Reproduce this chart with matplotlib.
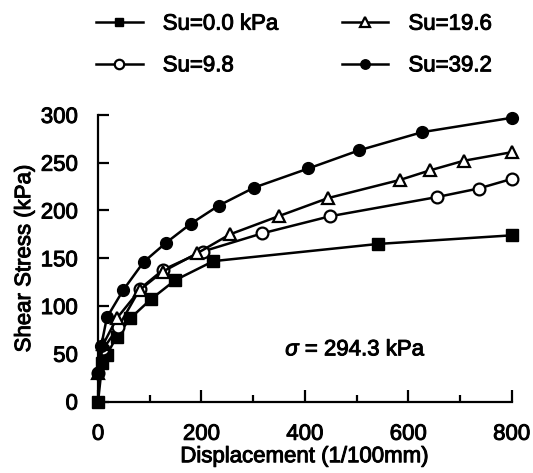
"""
Shear stress vs displacement for several suction values.
"""

import matplotlib

matplotlib.use("Agg")
import matplotlib.pyplot as plt
import matplotlib.patheffects as pe
from matplotlib.ticker import MultipleLocator


plt.rcParams["font.family"] = ["Liberation Sans", "DejaVu Sans"]
plt.rcParams["mathtext.fontset"] = "custom"
plt.rcParams["mathtext.it"] = "Liberation Sans:italic"

FONT_SIZE = 16
BOLDEN = [pe.withStroke(linewidth=0.7, foreground="black")]

# Su = 0.0 kPa (filled squares)
X_SU0: list[float] = [0, 8, 17, 36, 62, 102, 149, 223, 542, 800]
Y_SU0: list[float] = [0, 40, 49, 68, 87, 107, 127, 147, 165, 174]

# Su = 9.8 kPa (open circles)
X_SU98: list[float] = [0, 10, 39, 81, 126, 202, 317, 449, 655, 736, 800]
Y_SU98: list[float] = [30, 55, 78, 118, 138, 157, 176, 194, 214, 223, 233]

# Su = 19.6 kPa (open triangles)
X_SU196: list[float] = [0, 10, 36, 81, 125, 191, 255, 349, 445, 584, 642, 707, 800]
Y_SU196: list[float] = [30, 60, 87, 117, 136, 155, 175, 194, 213, 232, 242, 252, 261]

# Su = 39.2 kPa (filled circles)
X_SU392: list[float] = [0, 6, 17, 49, 88, 131, 179, 233, 302, 407, 505, 627, 800]
Y_SU392: list[float] = [30, 58, 88, 117, 146, 166, 186, 205, 224, 244, 263, 282, 297]

LABELS: list[str] = ["Su=0.0 kPa", "Su=9.8", "Su=19.6", "Su=39.2"]


def create_chart() -> None:
    """
    Draw the four shear stress curves.
    """
    fig = plt.figure(figsize=(5.33, 4.73), dpi=100)
    ax = fig.add_axes([0.184, 0.151, 0.776, 0.606])

    common = dict(color="black", linewidth=1.8, clip_on=False)

    ax.plot(X_SU0, Y_SU0, marker="s", markersize=8,
            markerfacecolor="black", label=LABELS[0], **common)
    ax.plot(X_SU98, Y_SU98, marker="o", markersize=8.5,
            markerfacecolor="white", markeredgewidth=1.6,
            label=LABELS[1], **common)
    ax.plot(X_SU196, Y_SU196, marker="^", markersize=9,
            markerfacecolor="white", markeredgewidth=1.6,
            label=LABELS[2], **common)
    ax.plot(X_SU392, Y_SU392, marker="o", markersize=8.5,
            markerfacecolor="black", label=LABELS[3], **common)

    ax.set_xlim(0, 800)
    ax.set_ylim(0, 300)

    ax.spines["top"].set_visible(False)
    ax.spines["right"].set_visible(False)
    ax.spines["left"].set_linewidth(1.6)
    ax.spines["bottom"].set_linewidth(1.6)

    ax.xaxis.set_major_locator(MultipleLocator(200))
    ax.xaxis.set_minor_locator(MultipleLocator(100))
    ax.yaxis.set_major_locator(MultipleLocator(50))

    ax.tick_params(axis="x", which="major", direction="in", length=9,
                   width=1.6, pad=16, labelsize=FONT_SIZE)
    ax.tick_params(axis="x", which="minor", direction="in", length=5,
                   width=1.6)
    ax.tick_params(axis="y", which="major", direction="in", length=8,
                   width=1.6, pad=14.5, labelsize=FONT_SIZE)

    xlabel = ax.set_xlabel("Displacement (1/100mm)", fontsize=FONT_SIZE,
                           labelpad=1)
    ylabel = ax.set_ylabel("Shear Stress (kPa)", fontsize=FONT_SIZE,
                           labelpad=4)

    note = ax.text(362, 54, r"$\sigma$ = 294.3 kPa", fontsize=FONT_SIZE,
                   ha="left", va="center")

    legend = fig.legend(
        loc="upper left",
        bbox_to_anchor=(0.151, 1.004),
        ncol=2,
        frameon=False,
        fontsize=FONT_SIZE,
        handlelength=2.1,
        handletextpad=0.9,
        columnspacing=2.85,
        labelspacing=0.93,
        borderpad=0.2,
        markerscale=0.8,
    )

    texts = [xlabel, ylabel, note]
    texts += ax.get_xticklabels() + ax.get_yticklabels()
    texts += legend.get_texts()
    for item in texts:
        item.set_path_effects(BOLDEN)

    fig.savefig("out.png", dpi=100)


def main() -> None:
    """
    Build and save the figure.
    """
    create_chart()


if __name__ == "__main__":
    main()
